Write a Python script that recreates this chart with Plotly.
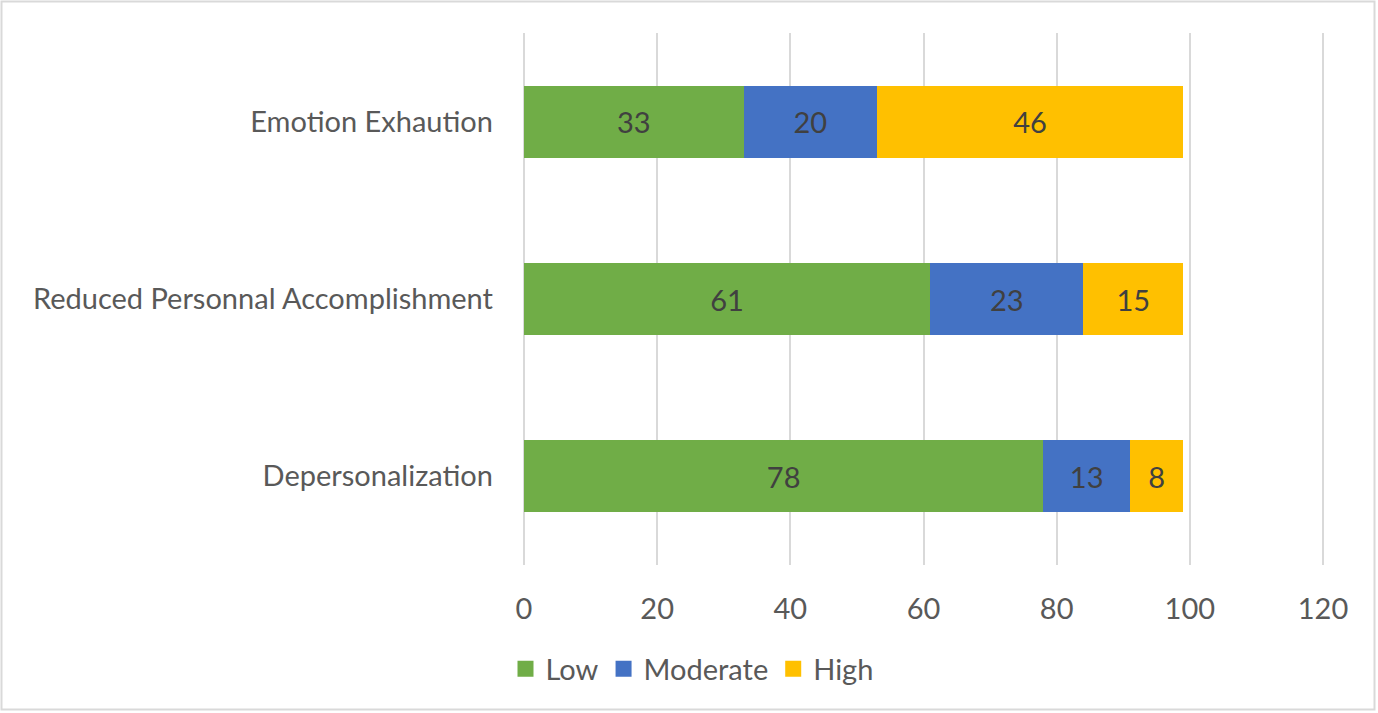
import plotly.graph_objects as go

# Burnout dimensions, listed top to bottom
categories = ["Emotion Exhaution", "Reduced Personnal Accomplishment", "Depersonalization"]
low = [33, 61, 78]
moderate = [20, 23, 13]
high = [46, 15, 8]
x_ticks = [0, 20, 40, 60, 80, 100, 120]

series = [("Low", low, "#70AD47"),
          ("Moderate", moderate, "#4472C4"),
          ("High", high, "#FFC000")]

W, H = 1378, 713
L, R, T, B = 521, 52, 33, 148
pw, ph = W - L - R, H - T - B

FONT = "Lato"
FS = 29
TXT = "#595959"

fig = go.Figure()
for name, vals, color in series:
    fig.add_trace(go.Bar(
        y=categories, x=vals, name=name, orientation="h",
        marker=dict(color=color, line=dict(width=0)),
        text=[str(v) for v in vals], textposition="inside",
        insidetextanchor="middle", showlegend=False,
        textfont=dict(family=FONT, size=FS, color="#404040"),
    ))

# Legend entries with larger square swatches
for name, vals, color in series:
    fig.add_trace(go.Scatter(
        x=[None], y=[None], mode="markers", name=name,
        marker=dict(symbol="square", size=18, color=color),
        showlegend=True,
    ))

# Light gray frame around the whole chart
def px_x(p):
    return (p - L) / pw

def px_y(p):
    return (H - B - p) / ph

fig.add_shape(type="rect", xref="paper", yref="paper",
              x0=px_x(1.5), x1=px_x(W - 3.5), y0=px_y(H - 3.5), y1=px_y(1.5),
              line=dict(color="#D9D9D9", width=2), fillcolor="rgba(0,0,0,0)")

fig.update_layout(
    width=W, height=H,
    margin=dict(l=L, r=R, t=T, b=B, autoexpand=False),
    barmode="stack", bargap=0.595,
    plot_bgcolor="white", paper_bgcolor="white",
    font=dict(family=FONT, size=FS, color=TXT),
    legend=dict(orientation="h", x=px_x(692), xanchor="center",
                y=px_y(669), yanchor="middle", itemwidth=30,
                font=dict(family=FONT, size=FS, color=TXT),
                traceorder="normal"),
)
# Range padded a little so the gridlines at 0 and 120 are drawn
fig.update_xaxes(range=[-0.45, 120.45], tickvals=x_ticks, showgrid=True,
                 gridcolor="#D9D9D9", gridwidth=1.5, zeroline=False,
                 showline=False, ticks="", ticklabelstandoff=24,
                 tickfont=dict(family=FONT, size=FS, color=TXT))
fig.update_yaxes(categoryorder="array", categoryarray=categories,
                 autorange="reversed", showgrid=False, zeroline=False,
                 showline=False, ticks="", ticklabelstandoff=27,
                 tickfont=dict(family=FONT, size=FS, color=TXT))

fig.write_html("out.html")
